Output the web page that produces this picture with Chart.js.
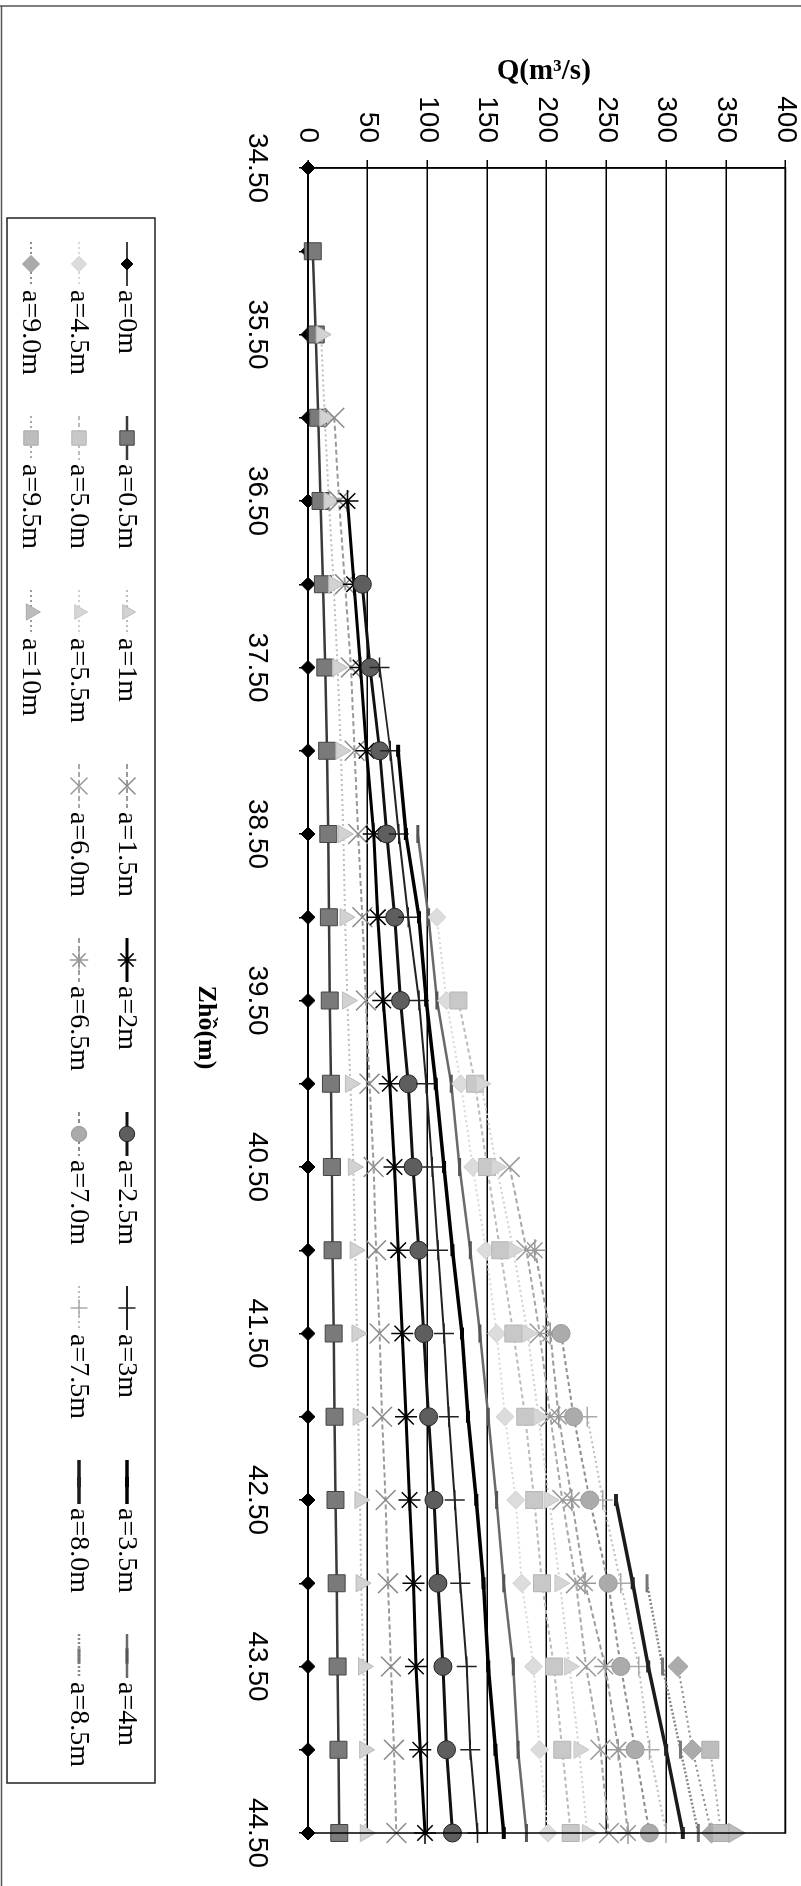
<!DOCTYPE html>
<html>
<head>
<meta charset="utf-8">
<script src="https://cdn.jsdelivr.net/npm/chart.js@4.4.1/dist/chart.umd.min.js"></script>
<style>
  html, body { margin: 0; padding: 0; background: #fff; width: 801px; height: 1886px; overflow: hidden; }
  /* the chart is laid out landscape and turned a quarter turn clockwise onto the portrait page */
  #wrap { position: absolute; left: 0; top: 0; width: 1886px; height: 801px;
          transform-origin: 0 0; transform: translate(801px, 0) rotate(90deg); }
  canvas { display: block; }
</style>
</head>
<body>
<div id="wrap"><canvas id="c" width="1886" height="801"></canvas></div>
<script>
// Reservoir level (m) on the category axis
const zho = [34.5, 35.0, 35.5, 36.0, 36.5, 37.0, 37.5, 38.0, 38.5, 39.0, 39.5,
             40.0, 40.5, 41.0, 41.5, 42.0, 42.5, 43.0, 43.5, 44.0, 44.5];

// Gate openings, one series each
const openings = ['a=0m', 'a=0.5m', 'a=1m', 'a=1.5m', 'a=2m', 'a=2.5m', 'a=3m', 'a=3.5m', 'a=4m',
                  'a=4.5m', 'a=5.0m', 'a=5.5m', 'a=6.0m', 'a=6.5m', 'a=7.0m', 'a=7.5m', 'a=8.0m', 'a=8.5m',
                  'a=9.0m', 'a=9.5m', 'a=10m'];

// Discharge Q (m3/s) per level; a series begins where the head reaches its opening
const n = null;
const qA00 = [0, 0, 0, 0, 0, 0, 0, 0, 0, 0, 0, 0, 0, 0, 0, 0, 0, 0, 0, 0, 0];
const qA05 = [n, 4, 6.5, 8.5, 10.5, 12.5, 14.5, 16, 17, 17.5, 18.2, 19.2, 20, 20.6, 21.5, 22.2, 23, 24, 24.8, 25.5, 26.2];
const qA10 = [n, n, 11, 14, 17.5, 21.5, 24.8, 27.5, 29.6, 31, 33, 35.5, 38, 39.5, 41, 42, 43.5, 44.5, 46.5, 47.5, 48];
const qA15 = [n, n, n, 22, 26, 31, 36, 39, 42, 45.5, 48.5, 51.5, 55, 57, 60, 62, 65, 67, 69.5, 72, 74];
const qA20 = [n, n, n, n, 33, 38.5, 44, 49, 55, 58.5, 63, 68.5, 72.4, 75.5, 79, 82, 85, 88.4, 90.5, 94, 98];
const qA25 = [n, n, n, n, n, 45.5, 52, 60, 66, 72.6, 77.5, 84, 88, 92.8, 97, 101, 105.5, 108.8, 113, 116, 121];
const qA30 = [n, n, n, n, n, n, 60, 69, 76, 84, 93, 99, 104, 108.8, 114, 118, 123, 127.5, 133, 136, 142];
const qA35 = [n, n, n, n, n, n, n, 75.5, 82, 93, 99, 107, 114, 121, 129, 134, 141, 147, 151, 157, 164];
const qA40 = [n, n, n, n, n, n, n, n, 92, 101, 108, 120, 127, 136, 144, 151, 158, 164, 172, 176, 183];
const qA45 = [n, n, n, n, n, n, n, n, n, 108, 116, 128, 138, 149, 158, 165, 174, 179, 189, 194, 201];
const qA50 = [n, n, n, n, n, n, n, n, n, n, 126, 140, 150, 161, 172, 182, 189.5, 196, 206, 213, 220];
const qA55 = [n, n, n, n, n, n, n, n, n, n, n, 145, 158, 172, 184, 193, 202, 211, 219, 227, 234];
const qA60 = [n, n, n, n, n, n, n, n, n, n, n, n, 169, 183, 194, 203, 213, 224.5, 233, 245, 252];
const qA65 = [n, n, n, n, n, n, n, n, n, n, n, n, n, 190, 203, 210, 221, 232, 249, 260, 268];
const qA70 = [n, n, n, n, n, n, n, n, n, n, n, n, n, n, 212, 222.5, 236, 251.5, 262, 274, 286];
const qA75 = [n, n, n, n, n, n, n, n, n, n, n, n, n, n, n, 234, 247, 262, 277, 286, 300];
const qA80 = [n, n, n, n, n, n, n, n, n, n, n, n, n, n, n, n, 258, 272, 285, 300, 314];
const qA85 = [n, n, n, n, n, n, n, n, n, n, n, n, n, n, n, n, n, 284, 297, 312, 327];
const qA90 = [n, n, n, n, n, n, n, n, n, n, n, n, n, n, n, n, n, n, 310, 322, 338];
const qA95 = [n, n, n, n, n, n, n, n, n, n, n, n, n, n, n, n, n, n, n, 337, 346];
const qA100 = [n, n, n, n, n, n, n, n, n, n, n, n, n, n, n, n, n, n, n, n, 357];

const qTicks = [0, 50, 100, 150, 200, 250, 300, 350, 400];

const series = [qA00, qA05, qA10, qA15, qA20, qA25, qA30, qA35, qA40, qA45, qA50,
                qA55, qA60, qA65, qA70, qA75, qA80, qA85, qA90, qA95, qA100];

// Line and marker look of each series (grey print of the default palette)
const looks = [
  { line: '#000', w: 1.5, dash: [],     mk: 'rectRot',  r: 7,  fill: '#000', edge: '#000', bw: 1 },
  { line: '#3a3a3a', w: 2.5, dash: [],  mk: 'rect',     r: 12, fill: '#7a7a7a', edge: '#444', bw: 1 },
  { line: '#bdbdbd', w: 2, dash: [2, 3], mk: 'triangle', r: 10, fill: '#d2d2d2', edge: '#bbb', bw: 1 },
  { line: '#9a9a9a', w: 2, dash: [5, 3], mk: 'crossRot', r: 14, fill: '#999', edge: '#8a8a8a', bw: 1.5 },
  { line: '#000', w: 3, dash: [],       mk: 'star',     r: 11, fill: '#000', edge: '#000', bw: 1.5 },
  { line: '#111', w: 3, dash: [],       mk: 'circle',   r: 9,  fill: '#5e5e5e', edge: '#222', bw: 1 },
  { line: '#222', w: 2, dash: [],       mk: 'cross',    r: 10, fill: '#222', edge: '#222', bw: 1.5 },
  { line: '#000', w: 3.5, dash: [],     mk: 'line',     r: 6,  fill: '#000', edge: '#000', bw: 4 },
  { line: '#6a6a6a', w: 2.5, dash: [],  mk: 'line',     r: 9,  fill: '#555', edge: '#555', bw: 3 },
  { line: '#d8d8d8', w: 2, dash: [2, 3], mk: 'rectRot', r: 9,  fill: '#dcdcdc', edge: '#d0d0d0', bw: 1 },
  { line: '#bbb', w: 2, dash: [4, 3],   mk: 'rect',     r: 12, fill: '#c8c8c8', edge: '#b5b5b5', bw: 1 },
  { line: '#cfcfcf', w: 2, dash: [2, 3], mk: 'triangle', r: 10, fill: '#d6d6d6', edge: '#c8c8c8', bw: 1 },
  { line: '#a8a8a8', w: 2, dash: [5, 3], mk: 'crossRot', r: 14, fill: '#999', edge: '#999', bw: 1.5 },
  { line: '#9c9c9c', w: 2, dash: [5, 3], mk: 'star',    r: 11, fill: '#999', edge: '#999', bw: 1.5 },
  { line: '#8c8c8c', w: 2, dash: [4, 3], mk: 'circle',  r: 9,  fill: '#ababab', edge: '#999', bw: 1 },
  { line: '#bcbcbc', w: 2, dash: [2, 3], mk: 'cross',   r: 10, fill: '#aaa', edge: '#aaa', bw: 1.5 },
  { line: '#1a1a1a', w: 3.5, dash: [],  mk: 'line',     r: 6,  fill: '#222', edge: '#222', bw: 4 },
  { line: '#888', w: 2.5, dash: [2, 2], mk: 'line',     r: 9,  fill: '#777', edge: '#777', bw: 3 },
  { line: '#8c8c8c', w: 2, dash: [2, 3], mk: 'rectRot', r: 10, fill: '#ababab', edge: '#999', bw: 1 },
  { line: '#a8a8a8', w: 2, dash: [2, 3], mk: 'rect',    r: 12, fill: '#bdbdbd', edge: '#aaa', bw: 1 },
  { line: '#9a9a9a', w: 2, dash: [2, 3], mk: 'triangle', r: 11, fill: '#bcbcbc', edge: '#aaa', bw: 1 }
];

const datasets = series.map((vals, i) => ({
  label: openings[i],
  data: vals,
  borderColor: looks[i].line,
  borderWidth: looks[i].w,
  borderDash: looks[i].dash,
  pointStyle: looks[i].mk,
  pointRadius: looks[i].r,
  pointBackgroundColor: looks[i].fill,
  pointBorderColor: looks[i].edge,
  pointBorderWidth: looks[i].bw,
  tension: 0,
  fill: false,
  clip: false,
  order: series.length - i   // later openings drawn over earlier ones
}));

const tickFont = { family: '"Liberation Sans", Arial, sans-serif', size: 28 };
const titleFont = '"Liberation Serif", "Times New Roman", serif';

// Plot border, outer frame, axis titles and the boxed legend
const decor = {
  id: 'decor',
  afterDraw(chart) {
    const ctx = chart.ctx;
    const a = chart.chartArea;
    ctx.save();
    ctx.setLineDash([]);
    ctx.strokeStyle = '#000';
    ctx.lineWidth = 1.5;
    ctx.strokeRect(a.left, a.top, a.right - a.left, a.bottom - a.top);

    // outer frame
    ctx.lineWidth = 1.5;
    ctx.strokeStyle = '#555';
    ctx.beginPath();
    ctx.moveTo(6, 0); ctx.lineTo(6, 801);
    ctx.moveTo(6, 799.5); ctx.lineTo(1886, 799.5);
    ctx.stroke();

    // axis titles
    ctx.fillStyle = '#000';
    ctx.textAlign = 'center';
    ctx.textBaseline = 'middle';
    ctx.font = 'bold 29px ' + titleFont;
    ctx.save();
    ctx.translate(72, (a.top + a.bottom) / 2 + 3);
    ctx.rotate(-Math.PI / 2);
    ctx.fillText('Q(m\u00B3/s)', 0, 0);
    ctx.restore();
    ctx.font = 'bold 26px ' + titleFont;
    ctx.fillText('Zh\u1ED3(m)', (a.left + a.right) / 2 + 27, 595);

    // legend
    const box = { x: 218, y: 646, w: 1565, h: 148 };
    ctx.strokeStyle = '#222';
    ctx.lineWidth = 1.5;
    ctx.strokeRect(box.x, box.y, box.w, box.h);
    const rowsY = [674, 722, 770];
    const colX0 = 264, colStep = 174;
    const drawPoint = Chart.helpers && Chart.helpers.drawPoint;
    ctx.font = '28px ' + titleFont;
    ctx.textAlign = 'left';
    chart.data.datasets.forEach((ds, i) => {
      const lk = looks[i];
      const cx = colX0 + (i % 9) * colStep;
      const cy = rowsY[Math.floor(i / 9)];
      ctx.save();
      ctx.strokeStyle = lk.line;
      ctx.lineWidth = lk.w;
      ctx.setLineDash(lk.dash);
      ctx.beginPath();
      ctx.moveTo(cx - 22, cy); ctx.lineTo(cx + 22, cy);
      ctx.stroke();
      ctx.setLineDash([]);
      ctx.fillStyle = lk.fill;
      ctx.strokeStyle = lk.edge;
      ctx.lineWidth = lk.bw;
      if (drawPoint) {
        drawPoint(ctx, { pointStyle: lk.mk, radius: lk.r * 0.85, rotation: 0, borderWidth: lk.bw }, cx, cy);
      }
      ctx.restore();
      ctx.fillStyle = '#000';
      ctx.fillText(ds.label, cx + 26, cy + 1);
    });
    ctx.restore();
  }
};

new Chart(document.getElementById('c'), {
  type: 'line',
  data: { labels: zho.map(v => v.toFixed(2)), datasets },
  options: {
    responsive: false,
    animation: false,
    devicePixelRatio: 1,
    layout: { padding: { left: 0, right: 53, top: 9, bottom: 0 } },
    plugins: { legend: { display: false }, tooltip: { enabled: false } },
    scales: {
      x: {
        type: 'category',
        offset: false,
        grid: { display: true, drawOnChartArea: false, drawTicks: true, tickLength: 9, color: '#000', lineWidth: 1.5 },
        border: { display: true, color: '#000', width: 1.5 },
        ticks: {
          autoSkip: false, maxRotation: 0, minRotation: 0, padding: 25, color: '#000', font: tickFont,
          callback: (v, i) => (i % 2 === 0 ? zho[i].toFixed(2) : '')
        },
        afterFit: s => { s.height = 308; s.paddingLeft = 0; s.paddingRight = 0; }
      },
      y: {
        min: 0, max: 400,
        afterBuildTicks: s => { s.ticks = qTicks.map(v => ({ value: v })); },
        grid: { color: '#000', lineWidth: 1.5, tickLength: 8, drawTicks: true },
        border: { display: true, color: '#000', width: 1.5 },
        ticks: { padding: 17, color: '#000', font: tickFont },
        afterFit: s => { s.width = 168; s.paddingTop = 0; s.paddingBottom = 0; }
      }
    }
  },
  plugins: [decor]
});
</script>
</body>
</html>
